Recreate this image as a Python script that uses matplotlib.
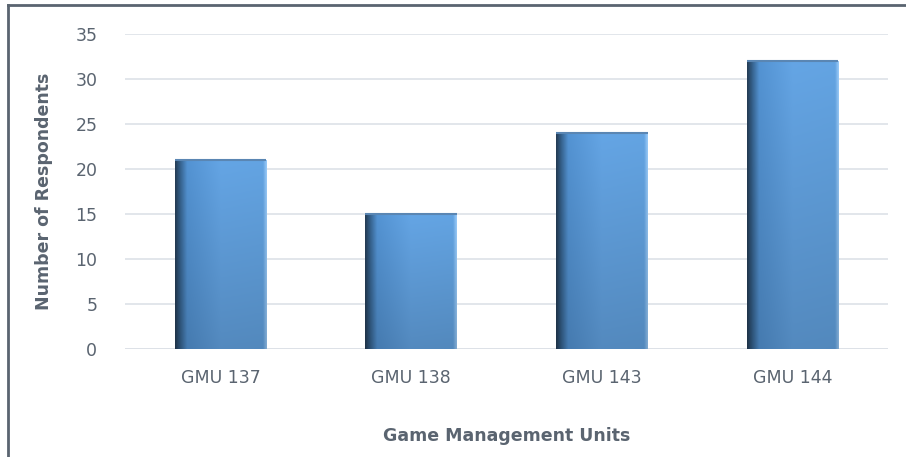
import numpy as np
import matplotlib.pyplot as plt
from matplotlib.colors import LinearSegmentedColormap
from matplotlib.lines import Line2D

categories = ['GMU 137', 'GMU 138', 'GMU 143', 'GMU 144']
respondents = [21, 15, 24, 32]

fig = plt.figure(figsize=(9.06, 4.57), dpi=100)
ax = fig.add_axes([0.138, 0.236, 0.842, 0.69])

text_color = '#5a6470'
x = np.arange(len(categories))
width = 0.48

bars = ax.bar(x, respondents, width=width, color='none', edgecolor='none', zorder=3)

# horizontal gradient: dark shadow on the left edge into mid blue
cmap = LinearSegmentedColormap.from_list('bar', [
    (0.0, '#22384f'), (0.05, '#30587f'), (0.13, '#4d88c3'),
    (0.5, '#5d99d4'), (0.96, '#5c98d2'), (1.0, '#8dbbe6')])
grad_h = np.linspace(0, 1, 200)[None, :]
for b in bars:
    x0, y0 = b.get_x(), b.get_y()
    w, h = b.get_width(), b.get_height()
    rgb = cmap(np.repeat(grad_h, 100, axis=0))[:, :, :3]
    # slight vertical shading: lighter at top, darker at bottom
    shade = np.linspace(1.08, 0.9, 100)[:, None, None]
    img = np.clip(rgb * shade, 0, 1)
    im = ax.imshow(img, extent=[x0, x0 + w, y0, y0 + h], aspect='auto',
                   origin='upper', zorder=3)
    im.set_clip_path(b)
    ax.plot([x0, x0 + w], [y0 + h, y0 + h], color='#5a86b3', linewidth=1.5,
            solid_capstyle='butt', zorder=4)

ax.set_xlim(-0.5, len(categories) - 0.5)
ax.set_ylim(0, 35)
ax.set_yticks(range(0, 36, 5))
ax.set_xticks(x)
ax.set_xticklabels(categories)
ax.yaxis.grid(True, color='#dde1e7', linewidth=1.2, zorder=0)
ax.set_axisbelow(True)
for s in ax.spines.values():
    s.set_visible(False)
ax.axhline(0, color='#dde1e7', linewidth=1.2, zorder=1)
ax.tick_params(axis='both', length=0, labelsize=12.5, colors=text_color)
ax.tick_params(axis='y', pad=20)
ax.tick_params(axis='x', pad=14)

ax.set_xlabel('Game Management Units', fontsize=12.5, fontweight='bold',
              color=text_color, labelpad=29)
ax.set_ylabel('Number of Respondents', fontsize=12.5, fontweight='bold',
              color=text_color, labelpad=16)

# frame lines at left and top of the figure
fig.add_artist(Line2D([0.009, 0.009], [0, 0.99], color='#5a6470', linewidth=2))
fig.add_artist(Line2D([0.009, 1.0], [0.99, 0.99], color='#5a6470', linewidth=2))

fig.savefig('out.png', dpi=100)
